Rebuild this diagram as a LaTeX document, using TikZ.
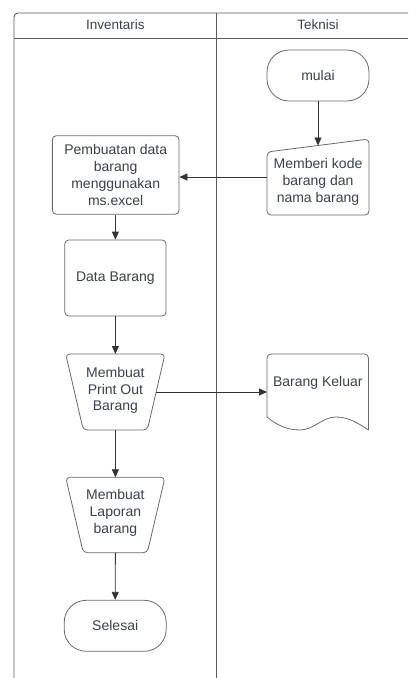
\documentclass[tikz,border=0pt]{standalone}
\usepackage{fontspec}
\setmainfont{Liberation Sans}
\usetikzlibrary{arrows.meta}

\definecolor{inktext}{HTML}{3A414A}
\definecolor{laneline}{HTML}{5A5A5A}
\definecolor{boxline}{HTML}{6A6A6A}
\definecolor{flowline}{HTML}{333333}

\tikzset{
  lane/.style={draw=laneline, line width=0.9pt},
  box/.style={draw=boxline, line width=0.8pt, rounded corners=4pt},
  txt/.style={text=inktext, align=center, inner sep=0pt,
    font=\fontsize{14}{16.7}\selectfont},
  header/.style={text=inktext, inner sep=0pt, font=\fontsize{13.5}{16}\selectfont},
  rbox/.style={txt, draw=boxline, line width=0.8pt, rounded corners=4pt},
  term/.style={txt, draw=boxline, line width=0.8pt, rounded corners=22pt,
    minimum width=102pt, minimum height=51pt},
  flow/.style={draw=flowline, line width=0.8pt,
    -{Triangle[length=8pt, width=7pt]}},
}

\begin{document}
\begin{tikzpicture}[x=1pt, y=-1pt]
\useasboundingbox (0,0) rectangle (408,678);

% swimlane frame
\draw[lane, rounded corners=4pt] (408,13) -- (14,13) -- (14,678);
\draw[lane] (14,38) -- (408,38);
\draw[lane] (216.7,13) -- (216.7,678);
\node[header] (hinv) at (115.3,25) {Inventaris};
\node[header] (htek) at (318,25) {Teknisi};

% Teknisi lane
\node[term] (mulai) at (318,75.5) {mulai};

\node[txt, minimum width=102pt, minimum height=76pt] (memberi) at (318,181.7)
  {Memberi kode\\barang dan\\nama barang};
\draw[box] (267,152) -- (369,139) -- (369,215) -- (267,215) -- cycle;
\coordinate (memberiTop) at (318,145.5);
\coordinate (memberiLeft) at (267,177);

\node[txt, minimum width=101.5pt, minimum height=76pt] (keluar) at (317.8,383.3)
  {Barang Keluar};
\draw[box] (267,417) -- (267,354) -- (368.5,354) -- (368.5,430);
\draw[draw=boxline, line width=0.8pt]
  (368.5,430) .. controls (358,423) and (348,417) .. (336,417)
  .. controls (322,417) and (314,430) .. (300,430)
  .. controls (288,430) and (278,426) .. (267,417);
\coordinate (keluarLeft) at (267,392);

% Inventaris lane
\node[rbox, minimum width=126.7pt, minimum height=78.6pt] (buat) at (115.7,175)
  {Pembuatan data\\barang\\menggunakan\\ms.excel};

\node[rbox, minimum width=101.3pt, minimum height=76pt] (data) at (115.4,278)
  {Data Barang};

\node[txt] (printout) at (115.4,390.5) {Membuat\\Print Out\\Barang};
\draw[box] (65.7,354) -- (165,354) -- (147.3,430) -- (83.3,430) -- cycle;
\coordinate (printTop) at (115.4,354);
\coordinate (printRight) at (156.2,392);
\coordinate (printBottom) at (115.4,430);

\node[txt] (laporan) at (115.4,512.7) {Membuat\\Laporan\\barang};
\draw[box] (65.7,477.3) -- (165,477.3) -- (147.3,552.7) -- (83.3,552.7) -- cycle;
\coordinate (laporanTop) at (115.4,477.3);
\coordinate (laporanBottom) at (115.4,552.7);

\node[term] (selesai) at (115.2,625.8) {Selesai};

% connectors
\draw[flow] (mulai.south) -- (memberiTop);
\draw[flow] (memberiLeft) -- (buat.east |- memberiLeft);
\draw[flow] (buat.south -| data.north) -- (data.north);
\draw[flow] (data.south) -- (printTop);
\draw[flow] (printRight) -- (keluarLeft);
\draw[flow] (printBottom) -- (laporanTop);
\draw[flow] (laporanBottom) -- (selesai.north);
\end{tikzpicture}
\end{document}
